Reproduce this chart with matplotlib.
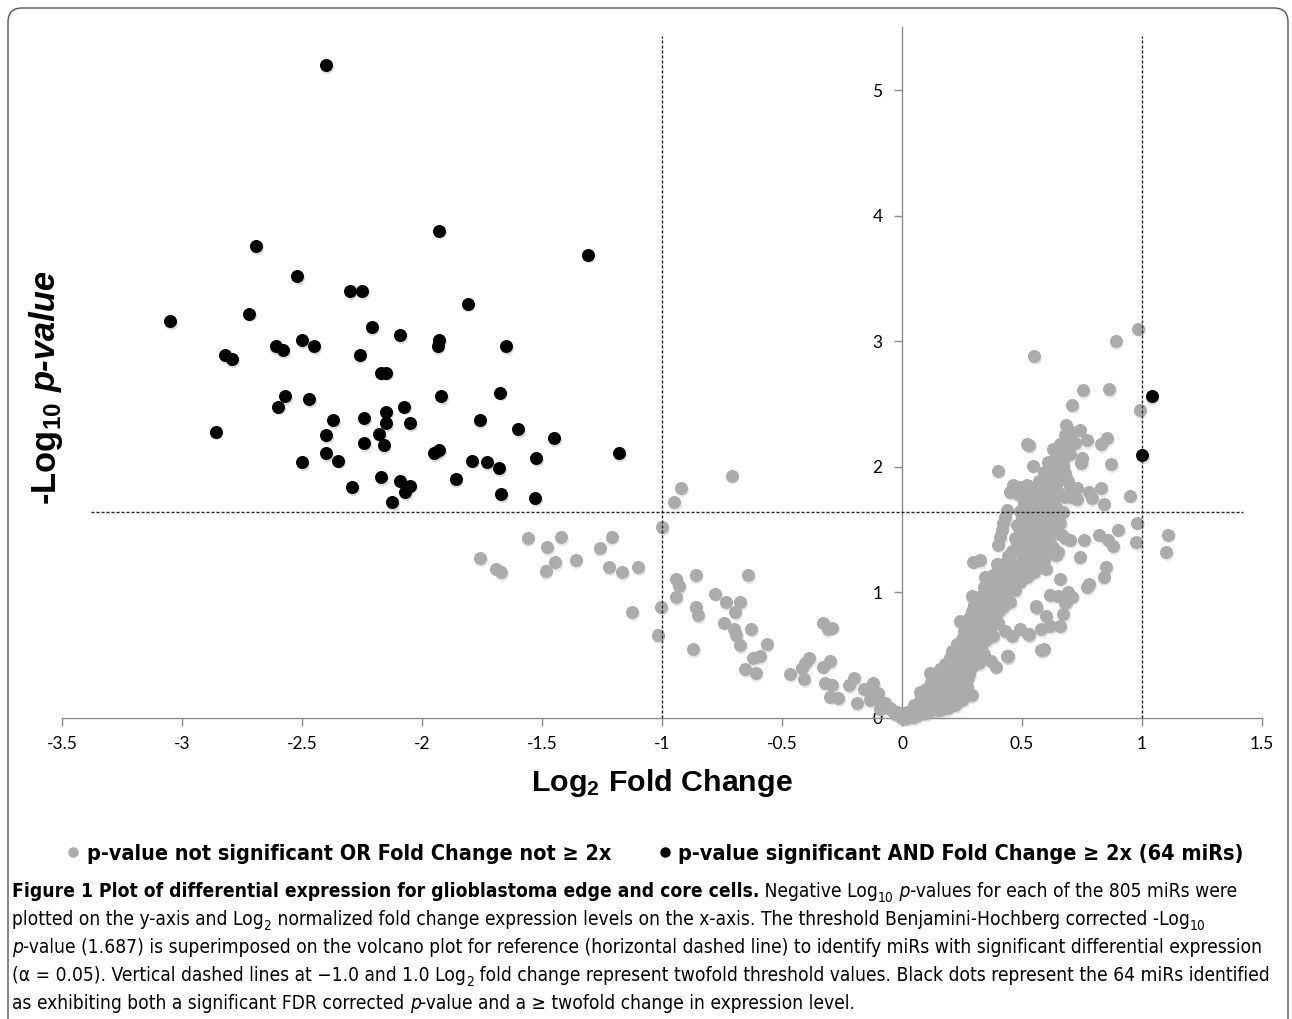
import matplotlib
matplotlib.use("Agg")
import matplotlib.pyplot as plt
import matplotlib.font_manager as fm
import matplotlib.transforms as mtransforms
from matplotlib.patches import FancyBboxPatch
from matplotlib.lines import Line2D
import numpy as np

W, H = 1292, 1019

# significant miRs (black)
black_x = [-2.40, -2.69, -1.93, -1.31, -2.52, -2.30, -2.25, -1.81, -3.05, -2.72,
           -2.21, -2.09, -2.50, -2.61, -2.45, -2.58, -2.82, -2.79, -2.26, -1.93,
           -1.935, -1.65, -2.17, -2.15, -1.675, -2.57, -2.47, -1.92, -2.60, -2.075,
           -2.37, -2.24, -2.15, -2.15, -2.05, -1.76, -2.86, -2.40, -2.18, -1.60,
           -1.45, -2.24, -2.16, -1.93, -1.95, -2.40, -2.35, -2.50, -1.79, -1.73,
           -1.68, -1.525, -1.18, -2.17, -2.09, -2.05, -2.07, -2.29, -1.86, -1.67,
           -1.53, -2.125, 1.04, 1.00]
black_y = [5.20, 3.76, 3.88, 3.69, 3.52, 3.40, 3.40, 3.30, 3.16, 3.22,
           3.11, 3.05, 3.01, 2.96, 2.96, 2.93, 2.89, 2.86, 2.89, 3.01,
           2.96, 2.96, 2.75, 2.75, 2.59, 2.56, 2.54, 2.56, 2.48, 2.48,
           2.37, 2.39, 2.44, 2.35, 2.35, 2.37, 2.28, 2.25, 2.26, 2.30,
           2.23, 2.19, 2.17, 2.13, 2.11, 2.11, 2.05, 2.04, 2.05, 2.04,
           1.99, 2.07, 2.11, 1.92, 1.89, 1.85, 1.80, 1.84, 1.90, 1.78,
           1.75, 1.72, 2.56, 2.09]

# not significant (gray), negative fold change side
gray_left = [(-1.758, 1.27), (-1.69, 1.19), (-1.67, 1.16), (-1.56, 1.43), (-1.48, 1.36),
             (-1.42, 1.44), (-1.446, 1.24), (-1.485, 1.17), (-1.36, 1.26), (-1.26, 1.35),
             (-1.21, 1.44), (-1.22, 1.20), (-1.165, 1.16), (-1.10, 1.20), (-1.126, 0.84),
             (-1.00, 1.52), (-1.004, 0.88), (-1.018, 0.66), (-0.95, 1.72), (-0.92, 1.83),
             (-0.94, 1.11), (-0.93, 1.05), (-0.94, 0.96), (-0.86, 0.88), (-0.85, 0.82),
             (-0.86, 1.14), (-0.87, 0.55), (-0.71, 1.93), (-0.64, 1.14), (-0.78, 0.99),
             (-0.735, 0.92), (-0.675, 0.92), (-0.696, 0.84), (-0.74, 0.76), (-0.70, 0.71),
             (-0.69, 0.66), (-0.675, 0.58), (-0.63, 0.71), (-0.564, 0.59), (-0.62, 0.475),
             (-0.59, 0.49), (-0.654, 0.39), (-0.61, 0.36), (-0.467, 0.35), (-0.418, 0.40),
             (-0.404, 0.44), (-0.386, 0.475), (-0.407, 0.31), (-0.33, 0.76), (-0.31, 0.71),
             (-0.29, 0.72), (-0.33, 0.41), (-0.30, 0.45), (-0.32, 0.28), (-0.29, 0.26),
             (-0.30, 0.17), (-0.265, 0.16), (-0.22, 0.26), (-0.20, 0.32), (-0.16, 0.23),
             (-0.12, 0.28), (-0.186, 0.12), (-0.133, 0.14), (-0.105, 0.175), (-0.085, 0.10),
             (-0.05, 0.077), (-0.02, 0.05), (0.005, 0.024), (-0.14, 0.22), (-0.10, 0.20),
             (-0.07, 0.12), (-0.04, 0.06), (-0.03, 0.03), (-0.06, 0.09), (-0.11, 0.16),
             (-0.09, 0.07)]

# not significant (gray), scattered points on the positive side
gray_right = [(0.985, 3.10), (0.89, 3.00), (0.55, 2.88), (0.753, 2.61), (0.862, 2.62),
              (0.71, 2.49), (0.99, 2.45), (0.683, 2.33), (0.74, 2.29), (0.77, 2.21),
              (0.853, 2.23), (0.83, 2.18), (0.686, 2.21), (0.67, 2.16), (0.66, 2.11),
              (0.64, 2.07), (0.53, 2.17), (0.75, 2.07), (0.52, 2.18), (0.40, 1.97),
              (0.547, 2.01), (0.745, 2.03), (0.87, 2.02), (0.83, 1.83), (0.78, 1.80),
              (0.79, 1.75), (0.84, 1.70), (0.95, 1.77), (0.73, 1.83), (0.70, 1.84),
              (0.71, 1.76), (0.73, 1.74), (0.66, 2.03), (0.64, 1.95), (0.67, 2.01),
              (0.98, 1.555), (0.90, 1.50), (0.82, 1.46), (0.76, 1.42), (0.86, 1.42),
              (0.88, 1.37), (0.975, 1.40), (1.11, 1.46), (1.10, 1.32), (0.665, 1.46),
              (0.70, 1.42), (0.68, 1.43), (0.65, 1.32), (0.64, 1.30), (0.74, 1.28),
              (0.85, 1.20), (0.84, 1.125), (0.78, 1.07), (0.77, 1.045), (0.66, 1.11),
              (0.575, 1.23), (0.60, 1.19), (0.617, 0.98), (0.69, 1.005), (0.71, 0.966),
              (0.68, 0.913), (0.60, 0.81), (0.66, 0.73), (0.65, 0.97), (0.686, 0.94),
              (0.67, 0.83), (0.56, 0.88), (0.58, 0.71), (0.617, 0.73), (0.49, 0.71),
              (0.53, 0.67), (0.59, 0.55), (0.436, 0.49), (0.443, 0.49), (0.39, 0.41),
              (0.37, 0.45), (0.24, 0.77), (0.29, 0.18), (0.29, 0.97), (0.31, 0.95),
              (0.34, 0.97), (0.346, 1.125), (0.117, 0.355), (0.075, 0.21), (0.20, 0.46),
              (0.58, 0.54), (0.526, 0.67), (0.46, 0.65), (0.43, 0.69), (0.56, 0.89),
              (0.436, 1.66), (0.43, 1.60), (0.42, 1.55), (0.415, 1.50), (0.41, 1.44),
              (0.40, 1.38), (0.464, 1.855), (0.49, 1.84), (0.52, 1.855), (0.45, 1.80),
              (0.485, 1.78), (0.575, 1.88), (0.56, 1.80), (0.297, 1.245), (0.325, 1.26),
              (0.395, 1.23), (0.436, 1.245)]

# not significant (gray), the dense arm rising from the origin
gray_band = [(0.00, 0.00), (0.01, 0.01), (0.02, 0.00), (0.03, 0.02), (0.05, 0.01), (0.04, 0.04),
             (0.07, 0.03), (0.08, 0.05), (0.10, 0.04), (0.06, 0.07), (-0.01, 0.02), (0.02, 0.05),
             (0.12, 0.06), (0.09, 0.08), (0.14, 0.07), (0.11, 0.10), (0.16, 0.09), (0.05, 0.10),
             (0.16, 0.06), (0.19, 0.08), (0.22, 0.10), (0.25, 0.14), (0.27, 0.19),
             (0.07, 0.13), (0.10, 0.15), (0.13, 0.12), (0.15, 0.14), (0.18, 0.11), (0.17, 0.16),
             (0.20, 0.13), (0.08, 0.18), (0.12, 0.19), (0.14, 0.18), (0.19, 0.19), (0.22, 0.16),
             (0.21, 0.20), (0.24, 0.18), (0.10, 0.23), (0.13, 0.25), (0.16, 0.22), (0.18, 0.26),
             (0.20, 0.24), (0.23, 0.23), (0.25, 0.21), (0.12, 0.29), (0.15, 0.28), (0.19, 0.30),
             (0.22, 0.28), (0.24, 0.27), (0.27, 0.25), (0.14, 0.33), (0.17, 0.35), (0.20, 0.33),
             (0.22, 0.36), (0.25, 0.32), (0.27, 0.31), (0.16, 0.39), (0.19, 0.38), (0.23, 0.40),
             (0.26, 0.37), (0.28, 0.35), (0.18, 0.43), (0.21, 0.44), (0.24, 0.42), (0.27, 0.45),
             (0.29, 0.41), (0.20, 0.48), (0.23, 0.47), (0.26, 0.49), (0.30, 0.47), (0.32, 0.44),
             (0.21, 0.53), (0.24, 0.55), (0.27, 0.52), (0.29, 0.56), (0.32, 0.53), (0.34, 0.51),
             (0.23, 0.59), (0.26, 0.58), (0.30, 0.60), (0.33, 0.57), (0.25, 0.63), (0.27, 0.66),
             (0.30, 0.64), (0.32, 0.67), (0.35, 0.62), (0.26, 0.69), (0.29, 0.70), (0.33, 0.71),
             (0.36, 0.68), (0.38, 0.65), (0.27, 0.74), (0.30, 0.77), (0.32, 0.75), (0.35, 0.78),
             (0.37, 0.73), (0.28, 0.80), (0.31, 0.81), (0.34, 0.82), (0.38, 0.79), (0.40, 0.76),
             (0.29, 0.85), (0.32, 0.87), (0.35, 0.86), (0.37, 0.89), (0.40, 0.84), (0.42, 0.88),
             (0.30, 0.90), (0.34, 0.91), (0.31, 0.94), (0.33, 0.97), (0.36, 0.95), (0.39, 0.98),
             (0.41, 0.93), (0.43, 0.96), (0.45, 0.92), (0.35, 1.00), (0.38, 1.01), (0.34, 1.04),
             (0.37, 1.06), (0.40, 1.03), (0.42, 1.07), (0.45, 1.05), (0.47, 1.02), (0.36, 1.09),
             (0.39, 1.10), (0.43, 1.11), (0.46, 1.09), (0.49, 1.08), (0.38, 1.14), (0.41, 1.16),
             (0.44, 1.13), (0.47, 1.17), (0.50, 1.15), (0.52, 1.12), (0.40, 1.19), (0.46, 1.20),
             (0.49, 1.19), (0.53, 1.18), (0.55, 1.16), (0.42, 1.23), (0.45, 1.25), (0.48, 1.22),
             (0.51, 1.26), (0.54, 1.24), (0.57, 1.21), (0.44, 1.29), (0.50, 1.30), (0.53, 1.28),
             (0.56, 1.29), (0.59, 1.26), (0.46, 1.33), (0.49, 1.35), (0.52, 1.32), (0.55, 1.36),
             (0.58, 1.34), (0.61, 1.31), (0.48, 1.39), (0.51, 1.40), (0.54, 1.38), (0.57, 1.40),
             (0.60, 1.38), (0.63, 1.36), (0.47, 1.43), (0.50, 1.45), (0.53, 1.44), (0.56, 1.47),
             (0.59, 1.43), (0.62, 1.46), (0.49, 1.49), (0.52, 1.50), (0.55, 1.52), (0.58, 1.49),
             (0.61, 1.51), (0.64, 1.48), (0.48, 1.54), (0.51, 1.56), (0.54, 1.55), (0.57, 1.58),
             (0.60, 1.54), (0.63, 1.57), (0.66, 1.55), (0.50, 1.60), (0.53, 1.61), (0.56, 1.63),
             (0.59, 1.60), (0.62, 1.62), (0.49, 1.65), (0.52, 1.67), (0.55, 1.66), (0.58, 1.69),
             (0.61, 1.65), (0.64, 1.68), (0.67, 1.64), (0.51, 1.71), (0.54, 1.72), (0.57, 1.74),
             (0.60, 1.71), (0.63, 1.73), (0.50, 1.77), (0.53, 1.78), (0.56, 1.76), (0.59, 1.79),
             (0.62, 1.77), (0.65, 1.80), (0.68, 1.76), (0.55, 1.82), (0.58, 1.84), (0.61, 1.83),
             (0.64, 1.86), (0.57, 1.89), (0.60, 1.91), (0.63, 1.88), (0.66, 1.92), (0.69, 1.89),
             (0.59, 1.96), (0.62, 1.98), (0.65, 1.97), (0.68, 1.95), (0.61, 2.04), (0.64, 2.09),
             (0.67, 2.06), (0.70, 2.10), (0.63, 2.14), (0.66, 2.18), (0.69, 2.15), (0.72, 2.19),
             (0.68, 2.25), (0.71, 2.28)]

p_threshold = 1.64
fc_threshold = 1.0

x_ticks = [-3.5, -3, -2.5, -2, -1.5, -1, -0.5, 0, 0.5, 1, 1.5]
x_tick_labels = ['-3.5', '-3', '-2.5', '-2', '-1.5', '-1', '-0.5', '0', '0.5', '1', '1.5']
y_ticks = [0, 1, 2, 3, 4, 5]
y_tick_labels = ['0', '1', '2', '3', '4', '5']

legend_labels = ['p-value not significant OR Fold Change not \u2265 2x',
                 'p-value significant AND Fold Change \u2265 2x (64 miRs)']

caption_lines = [
    [('Figure 1 Plot of differential expression for glioblastoma edge and core cells.', 'b'),
     (' Negative Log', 'r'), ('10', 'sub'), (' p', 'i'),
     ('-values for each of the 805 miRs were', 'r')],
    [('plotted on the y-axis and Log', 'r'), ('2', 'sub'),
     (' normalized fold change expression levels on the x-axis. The threshold Benjamini-Hochberg corrected -Log', 'r'),
     ('10', 'sub')],
    [('p', 'i'), ('-value (1.687) is superimposed on the volcano plot for reference (horizontal dashed line) to identify miRs with significant differential expression', 'r')],
    [('(\u03b1 = 0.05). Vertical dashed lines at \u22121.0 and 1.0 Log', 'r'), ('2', 'sub'),
     (' fold change represent twofold threshold values. Black dots represent the 64 miRs identified', 'r')],
    [('as exhibiting both a significant FDR corrected ', 'r'), ('p', 'i'),
     ('-value and a \u2265 twofold change in expression level.', 'r')],
]


def has_font(name):
    try:
        fm.findfont(fm.FontProperties(family=name), fallback_to_default=False)
        return True
    except ValueError:
        return False


def weight_num(w):
    if isinstance(w, str):
        return fm.weight_dict.get(w, 400)
    return int(w)


def condensed_faces():
    # look for a narrow sans face with regular, bold and italic styles
    groups = {}
    for f in fm.fontManager.ttflist:
        narrow = ('Narrow' in f.name or 'Condensed' in f.name
                  or str(f.stretch) in ('condensed', 'semi-condensed'))
        if not narrow or 'Mono' in f.name or 'Serif' in f.name:
            continue
        groups.setdefault((f.name, str(f.stretch)), []).append(f)
    order = ['Liberation Sans Narrow', 'DejaVu Sans', 'DejaVu Sans Condensed', 'Noto Sans',
             'Roboto', 'Open Sans']
    keys = sorted(groups, key=lambda k: (order.index(k[0]) if k[0] in order else 99,
                                         0 if k[1] == 'condensed' else 1))
    for k in keys:
        faces = {}
        for f in groups[k]:
            wn = weight_num(f.weight)
            if f.style == 'normal' and wn == 400:
                faces['r'] = f.fname
            elif f.style == 'normal' and wn == 700:
                faces['b'] = f.fname
            elif f.style in ('italic', 'oblique') and wn == 400:
                faces['i'] = f.fname
        if {'r', 'b', 'i'} <= set(faces):
            return faces
    return None


FACES = condensed_faces()
TICKFONT = 'Lato' if has_font('Lato') else 'DejaVu Sans'


def props(kind, size):
    if FACES is not None:
        return fm.FontProperties(fname=FACES['b' if kind == 'b' else 'i' if kind == 'i' else 'r'],
                                 size=size)
    return fm.FontProperties(family='Liberation Sans', size=size,
                             weight='bold' if kind == 'b' else 'normal',
                             style='italic' if kind == 'i' else 'normal')


plt.rcParams['font.family'] = ['Liberation Sans', 'DejaVu Sans']
plt.rcParams['mathtext.fontset'] = 'custom'
plt.rcParams['mathtext.rm'] = 'Liberation Sans'
plt.rcParams['mathtext.it'] = 'Liberation Sans:italic'
plt.rcParams['mathtext.bf'] = 'Liberation Sans:bold'

fig = plt.figure(figsize=(W / 100, H / 100), dpi=100)
renderer = fig.canvas.get_renderer()

ax = fig.add_axes([62 / W, (H - 718) / H, 1200 / W, 5.5 * 125.6 / H])
ax.patch.set_visible(False)

gray = np.array(gray_left + gray_right + gray_band)
gx, gy = gray[:, 0], gray[:, 1]

# soft drop shadow like the original spreadsheet markers
shadow = mtransforms.offset_copy(ax.transData, fig=fig, x=0.8, y=-1.8, units='dots')
ax.scatter(gx, gy, s=88, c='black', alpha=0.10, linewidths=0, transform=shadow,
           zorder=2, clip_on=False)
ax.scatter(black_x, black_y, s=88, c='black', alpha=0.15, linewidths=0, transform=shadow,
           zorder=2, clip_on=False)
ax.scatter(gx, gy, s=88, c='#ababab', linewidths=0, zorder=3, clip_on=False)
ax.scatter(black_x, black_y, s=88, c='black', linewidths=0, zorder=4, clip_on=False)

# threshold lines
ax.plot([-3.38, 1.42], [p_threshold, p_threshold], color='#222222', lw=1.0,
        dashes=(2.2, 1.4), zorder=5, clip_on=False)
for v in (-fc_threshold, fc_threshold):
    ax.plot([v, v], [0, 5.43], color='#222222', lw=1.0, dashes=(2.2, 1.4), zorder=5)

ax.set_xlim(-3.5, 1.5)
ax.set_ylim(0, 5.5)
ax.spines['top'].set_visible(False)
ax.spines['right'].set_visible(False)
ax.spines['left'].set_position(('data', 0))
for s in ('left', 'bottom'):
    ax.spines[s].set_color('#8c8c8c')
    ax.spines[s].set_linewidth(1.0)
ax.set_xticks(x_ticks)
ax.set_xticklabels(x_tick_labels)
ax.set_yticks(y_ticks)
ax.set_yticklabels(y_tick_labels)
ax.tick_params(axis='both', direction='out', length=6, width=1, color='#8c8c8c',
               labelsize=12.5, labelcolor='black')
ax.tick_params(axis='x', pad=7)
ax.tick_params(axis='y', pad=8)
for lab in ax.get_xticklabels() + ax.get_yticklabels():
    lab.set_family(TICKFONT)

# axis titles, sized to the reference widths
xl = fig.text(662 / W, 1 - 791 / H, 'Log$_{\\mathbf{2}}$ Fold Change', ha='center',
              va='baseline', fontsize=20, fontweight='bold')
xl.set_fontsize(20 * 262 / xl.get_window_extent(renderer).width)

ysize = 20
probe1 = fig.text(0, 0, '-Log$_{\\mathbf{10}}$', rotation=90, fontsize=ysize, fontweight='bold')
probe2 = fig.text(0, 0, 'p-value', rotation=90, fontsize=ysize, fontweight='bold',
                  fontstyle='italic')
total = (probe1.get_window_extent(renderer).height + probe2.get_window_extent(renderer).height
         + 8)
probe1.remove()
probe2.remove()
ysize = ysize * 234 / total
yl1 = fig.text(56 / W, 1 - 505 / H, '-Log$_{\\mathbf{10}}$', rotation=90, rotation_mode='anchor',
               ha='left', va='baseline', fontsize=ysize, fontweight='bold')
h1 = yl1.get_window_extent(renderer).height
fig.text(56 / W, 1 - (505 - h1 - 8 * ysize / 20) / H, 'p-value', rotation=90,
         rotation_mode='anchor', ha='left', va='baseline', fontsize=ysize, fontweight='bold',
         fontstyle='italic')


def run_width(s, fp):
    t = fig.text(0, 0, '|' + s + '|', fontproperties=fp)
    t0 = fig.text(0, 0, '||', fontproperties=fp)
    w = t.get_window_extent(renderer).width - t0.get_window_extent(renderer).width
    t.remove()
    t0.remove()
    return w


def run_style(kind, size):
    if kind == 'sub':
        return props('r', size * 0.72), size * 0.25 * 100 / 72
    return props(kind, size), 0


def line_width(runs, size):
    return sum(run_width(s, run_style(k, size)[0]) for s, k in runs)


def draw_line(runs, x, base, size):
    for s, k in runs:
        fp, dy = run_style(k, size)
        fig.text(x / W, 1 - (base + dy) / H, s, ha='left', va='baseline', fontproperties=fp)
        x += run_width(s, fp)


# legend below the axis title
leg_size = 16
leg_size = leg_size * 526 / run_width(legend_labels[0], props('b', leg_size))
fig.add_artist(Line2D([73 / W], [1 - 852 / H], marker='o', ms=6.5, color='#ababab', ls='',
                      transform=fig.transFigure))
fig.add_artist(Line2D([665 / W], [1 - 852 / H], marker='o', ms=6.5, color='black', ls='',
                      transform=fig.transFigure))
fig.text(87 / W, 1 - 860 / H, legend_labels[0], fontproperties=props('b', leg_size),
         va='baseline')
fig.text(678 / W, 1 - 860 / H, legend_labels[1], fontproperties=props('b', leg_size),
         va='baseline')

# caption
cap_size = 12
cap_size = cap_size * 1250 / line_width(caption_lines[2], cap_size)
baselines = [897, 925, 953, 981, 1009]
for runs, b in zip(caption_lines, baselines):
    draw_line(runs, 12, b, cap_size)

# rounded frame around chart and caption
frame = FancyBboxPatch((8, -30), 1280, H - 8 + 30, boxstyle='round,pad=0,rounding_size=14',
                       transform=mtransforms.IdentityTransform(), fill=False,
                       ec='#555555', lw=1.0)
fig.add_artist(frame)

fig.savefig('out.png', dpi=100)
